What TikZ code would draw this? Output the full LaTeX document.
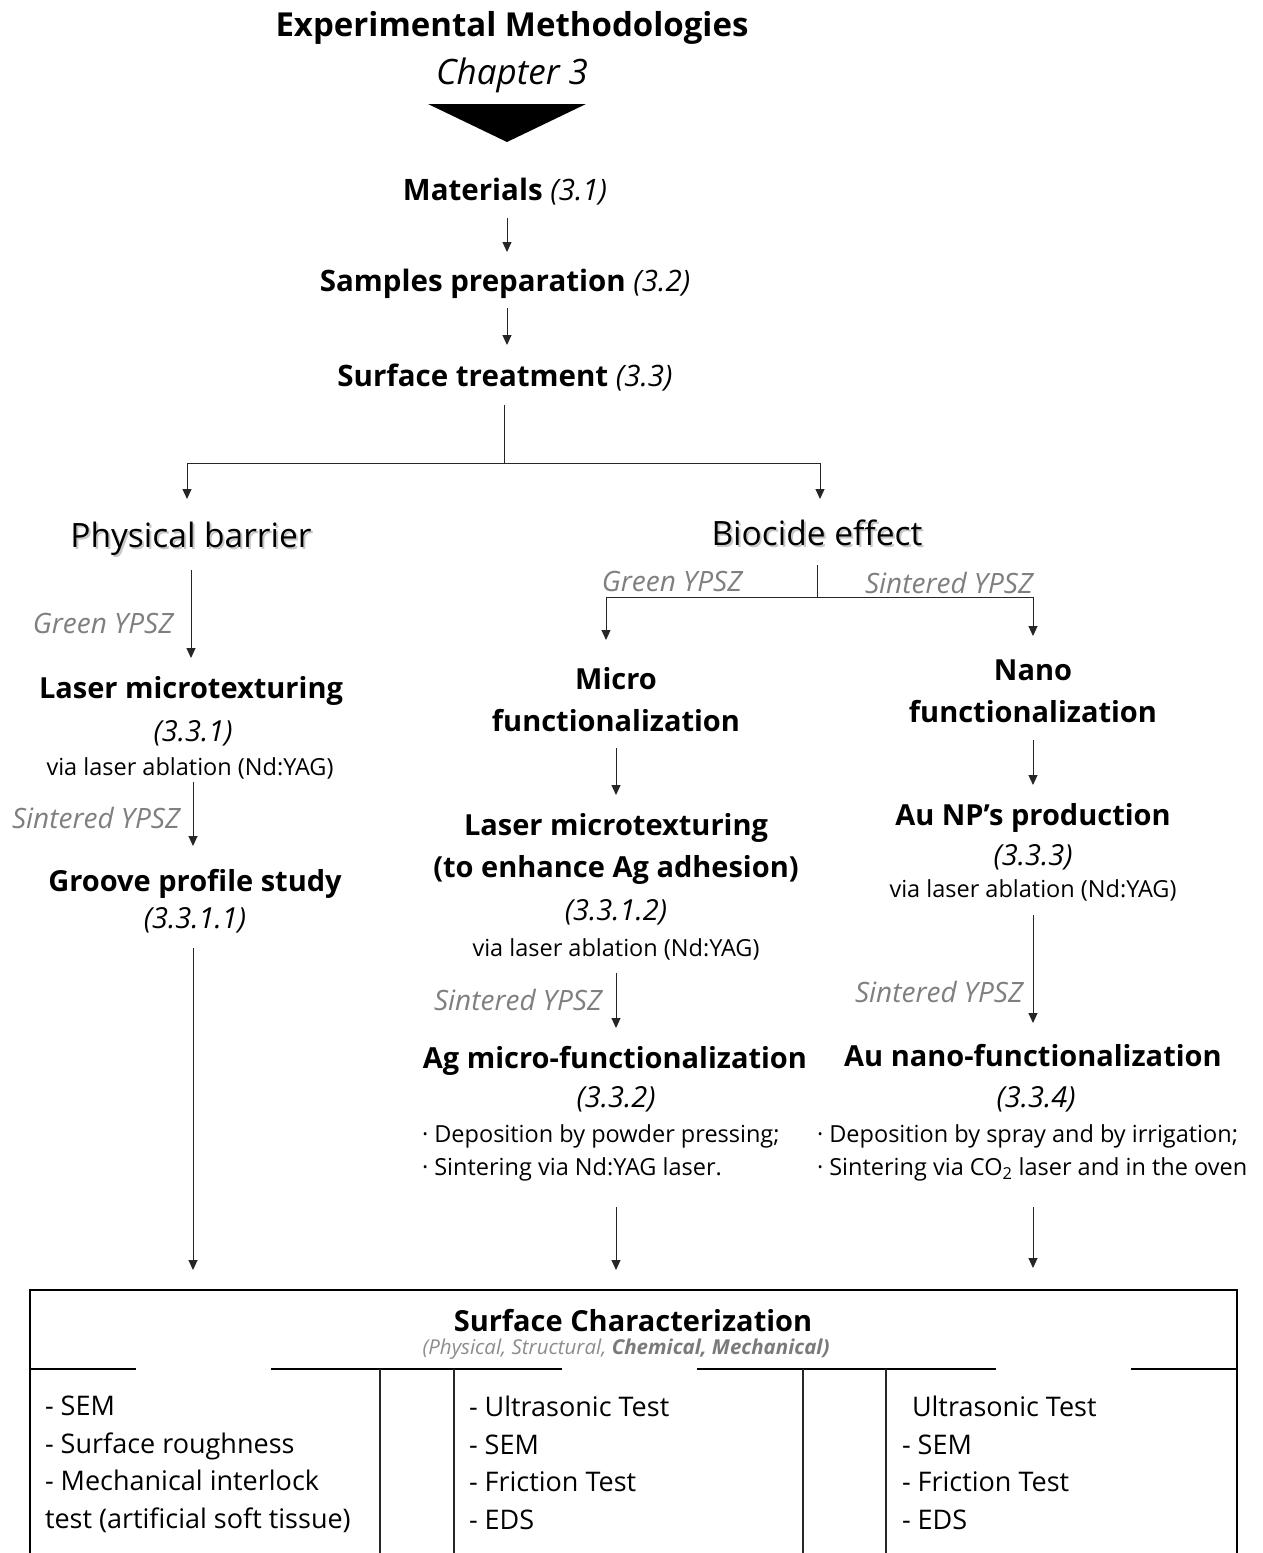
\documentclass[tikz,border=0pt]{standalone}
\usepackage{fontspec}
\setmainfont{Open Sans}
\usetikzlibrary{arrows.meta}
\definecolor{lgray}{HTML}{7F7F7F}
\begin{document}
\begin{tikzpicture}[x=1pt,y=-1pt,
 every node/.style={inner sep=0pt,outer sep=0pt},
 ln/.style={draw=black!85,line width=1pt},
 arr/.style={ln,-{Triangle[width=9pt,length=10pt]}},
 boxln/.style={draw=black,line width=1.6pt},
 ttl/.style={font=\fontsize{33}{39}\selectfont\bfseries},
 chp/.style={font=\fontsize{35}{41}\selectfont\itshape},
 stp/.style={font=\fontsize{29.5}{35}\selectfont},
 hd/.style={font=\fontsize{29}{42}\selectfont\bfseries,align=center},
 num/.style={font=\fontsize{29}{34}\selectfont\itshape},
 via/.style={font=\fontsize{23.5}{28}\selectfont},
 ypsz/.style={font=\fontsize{28}{33}\selectfont\itshape,text=lgray},
 big/.style={font=\fontsize{33.5}{39}\selectfont},
 shd/.style={big,text=black!22},
 bul/.style={font=\fontsize{23.5}{33}\selectfont,align=left,anchor=west},
 col/.style={font=\fontsize{27}{37.7}\selectfont,align=left,anchor=north west},
]
\useasboundingbox (0,0) rectangle (1263,1553);

% header
\node[ttl] (title) at (512,28) {Experimental Methodologies};
\node[chp] (chap) at (512,75) {Chapter 3};
\fill[black] (428,104) -- (586,104) -- (507,142) -- cycle;

% main chain
\node[stp] (mat) at (505,192) {\textbf{Materials} \textit{(3.1)}};
\node[stp] (prep) at (505,284) {\textbf{Samples preparation} \textit{(3.2)}};
\node[stp] (surf) at (505,378) {\textbf{Surface treatment} \textit{(3.3)}};

\coordinate (matOut) at (507,218);
\coordinate (prepIn) at (507,252);
\coordinate (prepOut) at (507,308);
\coordinate (surfIn) at (507,345);
\draw[arr] (matOut) -- (prepIn);
\draw[arr] (prepOut) -- (surfIn);

% split into physical / biocide
\coordinate (surfOut) at (504,405);
\coordinate (split) at (504,463);
\coordinate (physIn) at (187,499);
\coordinate (bioIn) at (820,499);
\draw[ln] (surfOut) -- (split);
\draw[arr] (split) -| (physIn);
\draw[arr] (split) -| (bioIn);

\node[shd] (physS) at (193,541) {Physical barrier};
\node[big] (phys) at (191,539) {Physical barrier};
\node[shd] (bioS) at (819,535) {Biocide effect};
\node[big] (bio) at (817,533) {Biocide effect};

% left column
\coordinate (physOut) at (191,570);
\coordinate (lm1In) at (191,658);
\draw[arr] (physOut) -- (lm1In);
\node[ypsz] (g1) at (103,623) {Green YPSZ};
\node[hd] (lm1) at (191,691) {Laser microtexturing};
\node[num] (lm1n) at (193,733) {(3.3.1)};
\node[via] (lm1v) at (190,768) {via laser ablation (Nd:YAG)};
\coordinate (lm1Out) at (193,782);
\coordinate (gpIn) at (193,846);
\draw[arr] (lm1Out) -- (gpIn);
\node[ypsz] (s1) at (96,818) {Sintered YPSZ};
\node[hd] (gp) at (195,884) {Groove profile study};
\node[num] (gpn) at (195,920) {(3.3.1.1)};
\coordinate (gpOut) at (193,948);
\coordinate (scInL) at (193,1270);
\draw[arr] (gpOut) -- (scInL);

% biocide split
\coordinate (bioOut) at (817,565);
\coordinate (bsplit) at (817,597);
\coordinate (microIn) at (606,640);
\coordinate (nanoIn) at (1033,636);
\draw[ln] (bioOut) -- (bsplit);
\draw[arr] (bsplit) -| (microIn);
\draw[arr] (bsplit) -| (nanoIn);
\node[ypsz] (g2) at (672,581) {Green YPSZ};
\node[ypsz] (s2) at (949,583) {Sintered YPSZ};

% middle column
\node[hd] (micro) at (616,700) {Micro\\functionalization};
\coordinate (microOut) at (616,748);
\coordinate (lm2In) at (616,795);
\draw[arr] (microOut) -- (lm2In);
\node[hd] (lm2) at (616,849) {Laser microtexturing\\(to enhance Ag adhesion)};
\node[num] (lm2n) at (616,912) {(3.3.1.2)};
\node[via] (lm2v) at (616,949) {via laser ablation (Nd:YAG)};
\coordinate (lm2Out) at (616,973);
\coordinate (agIn) at (616,1028);
\draw[arr] (lm2Out) -- (agIn);
\node[ypsz] (s3) at (518,1000) {Sintered YPSZ};
\node[hd] (ag) at (615,1061) {Ag micro-functionalization};
\node[num] (agn) at (616,1099) {(3.3.2)};
\node[bul] (agb) at (422,1153) {· Deposition by powder pressing;\\· Sintering via Nd:YAG laser.};
\coordinate (agOut) at (616,1207);
\coordinate (scInM) at (616,1270);
\draw[arr] (agOut) -- (scInM);

% right column
\node[hd] (nano) at (1033,691) {Nano\\functionalization};
\coordinate (nanoOut) at (1033,740);
\coordinate (auIn) at (1033,785);
\draw[arr] (nanoOut) -- (auIn);
\node[hd] (au) at (1033,818) {Au NP’s production};
\node[num] (aun) at (1033,857) {(3.3.3)};
\node[via] (auv) at (1033,890) {via laser ablation (Nd:YAG)};
\coordinate (auOut) at (1033,915);
\coordinate (aunfIn) at (1033,1023);
\draw[arr] (auOut) -- (aunfIn);
\node[ypsz] (s4) at (939,992) {Sintered YPSZ};
\node[hd] (aunf) at (1033,1056) {Au nano-functionalization};
\node[num] (aunfn) at (1036,1099) {(3.3.4)};
\node[bul] (aub) at (817,1153) {· Deposition by spray and by irrigation;\\· Sintering via CO\textsubscript{2} laser and in the oven};
\coordinate (aubOut) at (1033,1207);
\coordinate (scInR) at (1033,1268);
\draw[arr] (aubOut) -- (scInR);

% bottom characterization box
\draw[boxln] (30,1553) -- (30,1290) -- (1237,1290) -- (1237,1553);
\draw[boxln] (30,1369) -- (136,1369);
\draw[boxln] (271,1369) -- (562,1369);
\draw[boxln] (697,1369) -- (996,1369);
\draw[boxln] (1131,1369) -- (1237,1369);
\draw[ln,line width=1.3pt] (380,1369) -- (380,1553);
\draw[ln,line width=1.3pt] (454,1369) -- (454,1553);
\draw[ln,line width=1.3pt] (803,1369) -- (803,1553);
\draw[ln,line width=1.3pt] (886,1369) -- (886,1553);

\node[hd] (sc) at (633,1321) {Surface Characterization};
\node[font=\fontsize{20.5}{24}\selectfont\itshape,text=black!45] (scs) at (626,1349)
  {(Physical, Structural, \textcolor{black!52}{\bfseries Chemical, Mechanical)}};

\node[col] (c1) at (45,1396) {- SEM\\- Surface roughness\\- Mechanical interlock\\test (artificial soft tissue)};
\node[col] (c2) at (469,1396) {- Ultrasonic Test\\- SEM\\- Friction Test\\- EDS};
\node[col] (c3) at (902,1396) {\hspace*{10pt}Ultrasonic Test\\- SEM\\- Friction Test\\- EDS};
\end{tikzpicture}
\end{document}
